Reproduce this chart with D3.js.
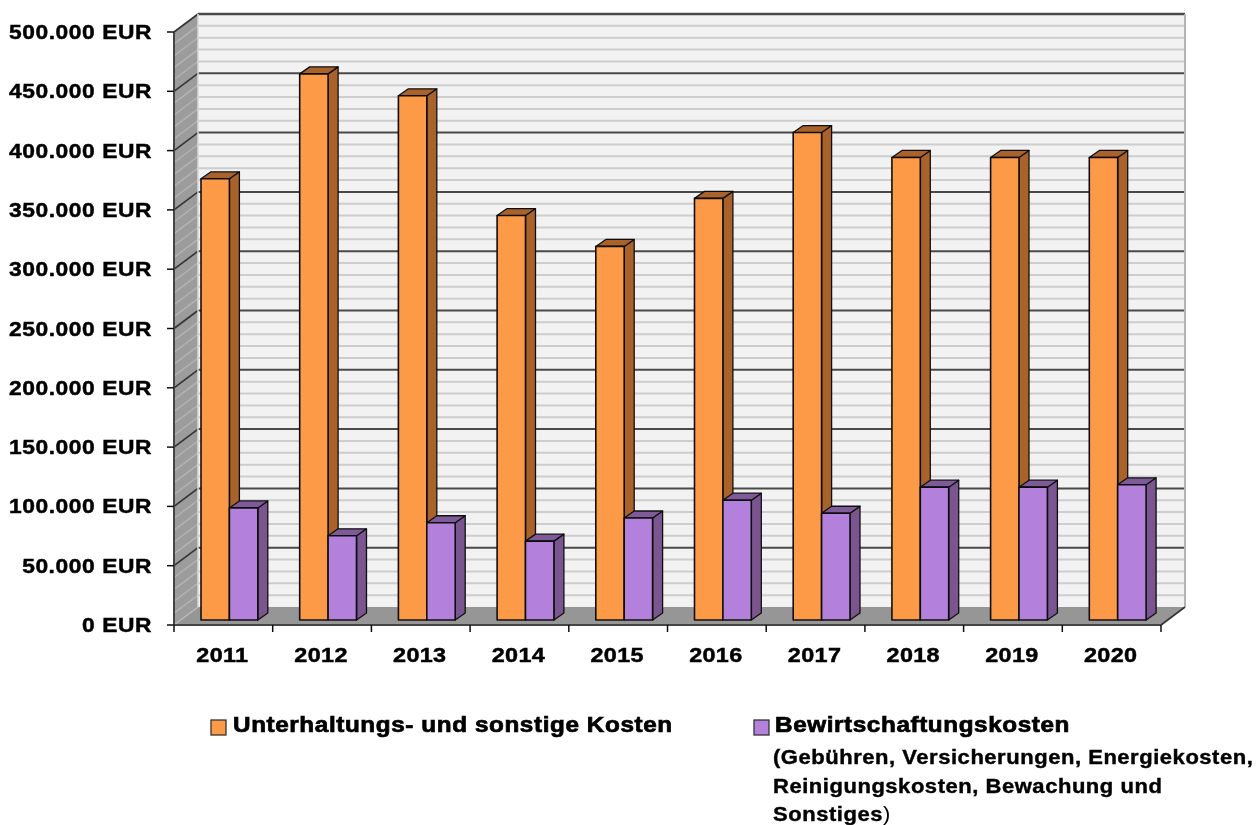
<!DOCTYPE html>
<html><head><meta charset="utf-8">
<script src="https://cdn.jsdelivr.net/npm/d3@7"></script>
<style>html,body{margin:0;background:#fff}svg{display:block}text{font-family:"Liberation Sans",Arial,sans-serif;font-weight:bold;fill:#000}</style>
</head><body><svg id="c" width="1256" height="825"></svg>
<script>
const years=["2011","2012","2013","2014","2015","2016","2017","2018","2019","2020"];
const upkeep=[372000,460500,442000,341000,315000,355500,411000,390000,390000,390000];
const operating=[94500,71000,82000,66500,86000,101000,90000,112000,112000,114000];
const seriesNames=["Unterhaltungs- und sonstige Kosten","Bewirtschaftungskosten"];
const noteLines=["(Gebühren, Versicherungen, Energiekosten,","Reinigungskosten, Bewachung und","Sonstiges"];
const majorTicks=d3.range(0,500001,50000);
const minorTicks=d3.range(0,500001,10000).filter(v=>v%50000!==0);

const svg=d3.select("#c");
svg.append("defs").append("filter").attr("id","soft").attr("x",0).attr("y",0).attr("width",1).attr("height",1)
  .attr("filterUnits","objectBoundingBox").append("feGaussianBlur").attr("stdDeviation",0.5);
const g=svg.append("g").attr("filter","url(#soft)");
g.append("rect").attr("width",1256).attr("height",825).attr("fill","#fff");

const x0=174,x1=1161,dx=24,dy=-18,barLift=4;
const y=d3.scaleLinear().domain([0,500000]).range([625,32]);
const xBand=d3.scaleBand().domain(years).range([x0,x1]);
const p=a=>a.map(q=>q.join(",")).join(" ");
const poly=(pts,fill,stroke,sw)=>g.append("polygon").attr("points",p(pts)).attr("fill",fill).attr("stroke",stroke||"none").attr("stroke-width",sw||0).attr("stroke-linejoin","round");
const line=(a,b,c,w)=>g.append("line").attr("x1",a[0]).attr("y1",a[1]).attr("x2",b[0]).attr("y2",b[1]).attr("stroke",c).attr("stroke-width",w);
const label=(tx,ty,str,size,sx,anchor,sw,ls)=>g.append("text")
  .attr("transform",`translate(${tx},${ty}) scale(${sx},1)`)
  .attr("text-anchor",anchor||"start").attr("font-size",size)
  .style("letter-spacing",ls+"px")
  .attr("stroke","#000").attr("stroke-width",sw).text(str);

// walls and floor
poly([[x0+dx,y(0)+dy],[x1+dx,y(0)+dy],[x1+dx,y(500000)+dy],[x0+dx,y(500000)+dy]],"#f2f2f2");
poly([[x0,y(0)],[x0+dx,y(0)+dy],[x0+dx,y(500000)+dy],[x0,y(500000)]],"#9c9c9c");
poly([[x0,y(0)],[x1,y(0)],[x1+dx,y(0)+dy],[x0+dx,y(0)+dy]],"#969696");
minorTicks.forEach(v=>{
  line([x0,y(v)],[x0+dx,y(v)+dy],"#b4b4b4",1.4);
  line([x0+dx,y(v)+dy],[x1+dx,y(v)+dy],"#cdcdcd",2);
});
majorTicks.forEach(v=>{
  if(v>0){line([x0,y(v)],[x0+dx,y(v)+dy],"#333",1.6);
  line([x0+dx,y(v)+dy],[x1+dx,y(v)+dy],"#4a4a4a",v===500000?2.4:2);}
});
line([x1+dx,y(500000)+dy],[x1+dx,y(0)+dy],"#b4b4b4",2);
line([x0+dx,y(500000)+dy],[x0+dx,y(0)+dy],"#d8d8d8",1.5);
line([x0,y(0)],[x0+dx,y(0)+dy],"#bdbdbd",1.2);
line([x1,y(0)],[x1+dx,y(0)+dy],"#333",1.6);

// axes
line([x0,y(500000)],[x0,y(0)],"#444",2);
line([x0,y(0)],[x1,y(0)],"#444",2);
majorTicks.forEach(v=>{
  line([x0-7,y(v)],[x0,y(v)],"#111",1.5);
  label(152,y(v)+7,d3.format(",")(v).replace(/,/g,".")+" EUR",20,1.14,"end",0.45,0.5);
});
years.concat(["end"]).forEach((yr,i)=>{
  const tx=i<years.length?xBand(yr):x1;
  line([tx,y(0)],[tx,y(0)+7],"#111",1.5);
});
years.forEach(yr=>{
  label(xBand(yr)+xBand.bandwidth()/2-1,662,yr,20,1.17,"middle",0.45,0.3);
});

// bars
const bw=28.4,inset=27,bdx=10,bdy=-7;
const yBar=v=>y(v)-barLift-1;
function bar(xl,v,front,top,side){
  const yt=yBar(v),yb=yBar(0),xr=xl+bw;
  poly([[xr,yb],[xr+bdx,yb+bdy],[xr+bdx,yt+bdy],[xr,yt]],side,"#111",1.3);
  poly([[xl,yt],[xl+bdx,yt+bdy],[xr+bdx,yt+bdy],[xr,yt]],top,"#111",1.3);
  poly([[xl,yb],[xr,yb],[xr,yt],[xl,yt]],front,"#111",1.6);
}
years.forEach((yr,i)=>{
  const xl=xBand(yr)+inset;
  bar(xl,upkeep[i],"#fd9a46","#a9622b","#a9622b");
  bar(xl+bw,operating[i],"#b381db","#7f5a99","#7a5590");
});

// legend
const lg=[{x:211,c:"#fd9a46",tx:233},{x:754,c:"#b381db",tx:775}];
lg.forEach((d,i)=>{
  g.append("rect").attr("x",d.x).attr("y",720).attr("width",15).attr("height",15).attr("fill",d.c).attr("stroke","#333").attr("stroke-width",1.3);
  label(d.tx,732,seriesNames[i],21.5,1.13,"start",0.7,0.52);
});
noteLines.forEach((t,i)=>{
  const el=label(773,764+i*28.7,t,20,1.1,"start",0.4,0.49);
  if(i===noteLines.length-1) el.append("tspan").attr("stroke-width",0).style("font-weight","normal").text(")");
});
</script></body></html>
